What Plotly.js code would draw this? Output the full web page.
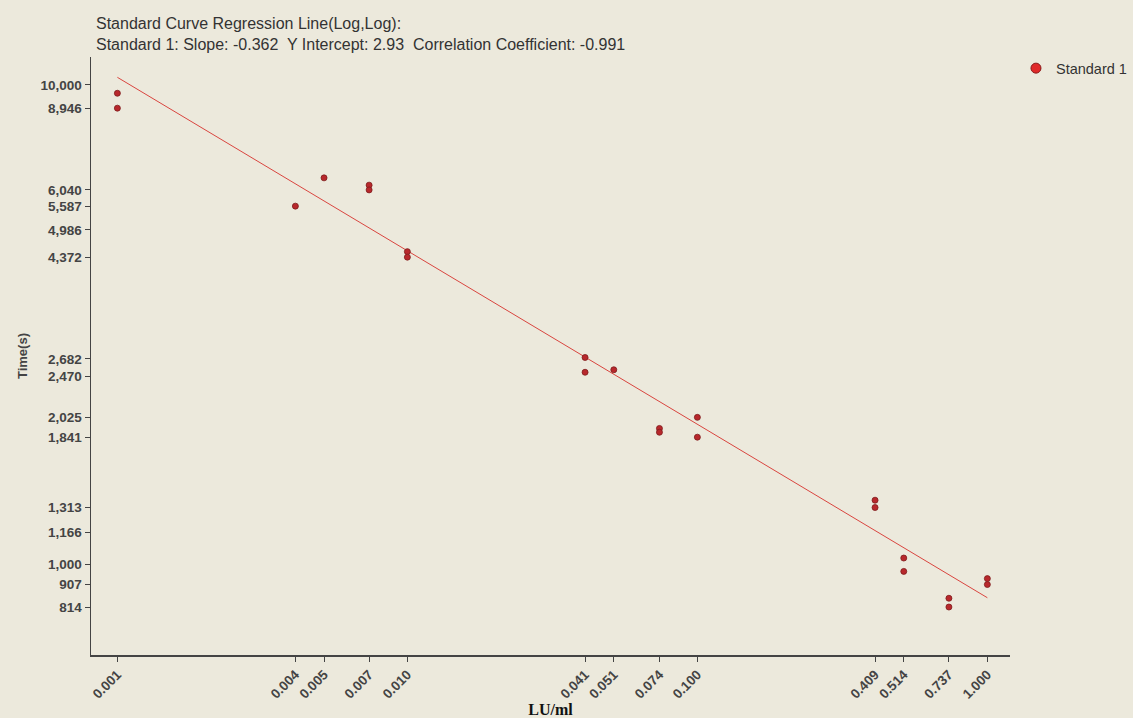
<!DOCTYPE html>
<html>
<head>
<meta charset="utf-8">
<script src="https://cdn.plot.ly/plotly-3.0.1.min.js"></script>
<style>html,body{margin:0;padding:0;background:#ece9dc;}#chart{width:1133px;height:718px;}</style>
</head>
<body>
<div id="chart"></div>
<script>
// Standard 1 measurements (LU/ml vs Time in seconds)
const concentrations = [0.001, 0.001, 0.00411, 0.00516, 0.00738, 0.00738, 0.010, 0.010,
  0.041, 0.041, 0.0515, 0.074, 0.074, 0.100, 0.100,
  0.410, 0.410, 0.515, 0.515, 0.737, 0.737, 1.000, 1.000];
const times = [9610, 8946, 5587, 6400, 6180, 6040, 4490, 4372,
  2700, 2515, 2545, 1920, 1885, 2025, 1841,
  1360, 1313, 1030, 966, 849, 814, 933, 907];

// Regression (Log,Log) parameters from the title
const slope = -0.362;
const intercept = 2.93;
const lineX = [0.001, 1.000];

const xTickVals = [0.001, 0.00411, 0.00516, 0.00738, 0.010, 0.041, 0.0515, 0.074, 0.100, 0.410, 0.515, 0.737, 1.000];
const xTickText = ["0.001", "0.004", "0.005", "0.007", "0.010", "0.041", "0.051", "0.074", "0.100", "0.409", "0.514", "0.737", "1.000"];
const yTickVals = [814, 907, 1000, 1166, 1313, 1841, 2025, 2470, 2682, 4372, 4986, 5587, 6040, 8946, 10000];
const yTickText = ["814", "907", "1,000", "1,166", "1,313", "1,841", "2,025", "2,470", "2,682", "4,372", "4,986", "5,587", "6,040", "8,946", "10,000"];

const lineY = lineX.map(x => Math.pow(10, intercept + slope * Math.log10(x)));

const bg = '#ece9dc';
const traces = [
  {
    x: lineX, y: lineY, type: 'scatter', mode: 'lines',
    line: {color: '#d9453f', width: 1}, showlegend: false, hoverinfo: 'skip'
  },
  {
    x: concentrations, y: times, type: 'scatter', mode: 'markers',
    name: 'Standard 1', showlegend: false,
    marker: {size: 6, color: '#b8282c', line: {color: '#7e1c1c', width: 0.8}}
  },
  {
    x: [null], y: [null], type: 'scatter', mode: 'markers', name: 'Standard 1',
    marker: {size: 10, color: '#e02a2a', line: {color: '#8a1c1c', width: 1}}
  }
];

const layout = {
  width: 1133, height: 718,
  paper_bgcolor: bg, plot_bgcolor: bg,
  font: {family: 'Liberation Sans, Arial, sans-serif', color: '#333333'},
  margin: {l: 91, r: 123, t: 57, b: 63, autoexpand: false},
  title: {
    text: 'Standard Curve Regression Line(Log,Log):<br>Standard 1: Slope: -0.362  Y Intercept: 2.93  Correlation Coefficient: -0.991',
    font: {size: 16, color: '#333333'},
    xref: 'container', yref: 'container', x: 96/1133, xanchor: 'left',
    y: 1 - 29/718, yanchor: 'top'
  },
  xaxis: {
    type: 'log', range: [Math.log10(0.000811), Math.log10(1.197)],
    tickmode: 'array', tickvals: xTickVals, ticktext: xTickText,
    tickangle: -45, ticks: 'outside', ticklen: 5, tickcolor: '#444',
    tickfont: {size: 13.5, color: '#444444', weight: 'bold'},
    showgrid: false, zeroline: false, showline: true, linecolor: '#444', linewidth: 1.5,
    title: {text: 'LU/ml', font: {family: 'Liberation Serif, Times New Roman, serif', size: 16, color: '#111', weight: 'bold'}, standoff: 1}
  },
  yaxis: {
    type: 'log', range: [2.8105, 4.0584],
    tickmode: 'array', tickvals: yTickVals, ticktext: yTickText,
    ticks: 'outside', ticklen: 5, tickcolor: '#444',
    tickfont: {size: 13.5, color: '#444444', weight: 'bold'},
    showgrid: false, zeroline: false, showline: true, linecolor: '#444', linewidth: 1.5,
    title: {text: 'Time(s)', font: {size: 13, color: '#444444', weight: 'bold'}, standoff: 10}
  },
  legend: {
    x: 1.0065, xanchor: 'left', y: 1.008, yanchor: 'top',
    bgcolor: 'rgba(0,0,0,0)', font: {size: 14.5, color: '#333333'}
  },
  showlegend: true
};

Plotly.newPlot('chart', traces, layout, {displayModeBar: false, staticPlot: true});
</script>
</body>
</html>
